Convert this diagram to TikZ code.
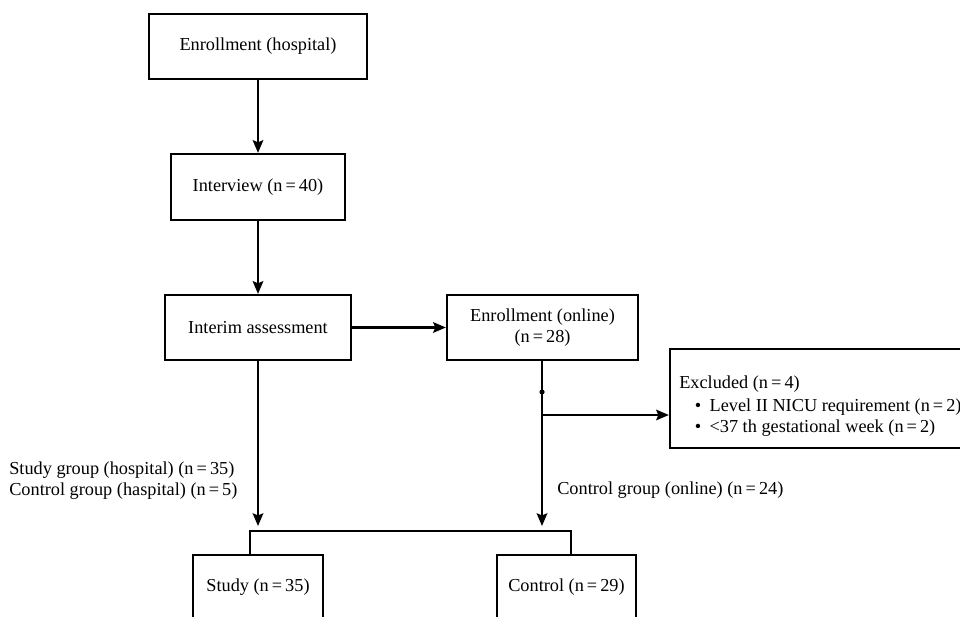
\documentclass[tikz,border=0pt]{standalone}
\usepackage{fontspec}
\setmainfont{Liberation Serif}
\usepackage{tikz}
\usetikzlibrary{positioning,arrows.meta}
\begin{document}
\begin{tikzpicture}[x=0.025cm, y=0.025cm]
		\tikzstyle{every node}+=[inner sep=0pt, font=\fontsize{13}{15}\selectfont]
		\tikzstyle{box}=[draw=black, line width=1.6pt, rectangle, align=center]
		\tikzstyle{arr}=[draw=black, line width=1.6pt, -{Stealth[length=9pt, width=7.5pt, inset=1.5pt]}]
		\tikzstyle{wire}=[draw=black, line width=1.6pt]
		\useasboundingbox (0,0) rectangle (960,-617);
		\node [box, minimum width=5.45cm, minimum height=1.625cm] (enrollH) at (258,-46.5) {Enrollment (hospital)};
		\node [box, minimum width=4.35cm, minimum height=1.65cm] (interview) at (258,-187) {Interview (n\,=\,40)};
		\node [box, minimum width=4.65cm, minimum height=1.625cm] (interim) at (258,-327.5) {Interim assessment};
		\node [box, minimum width=4.775cm, minimum height=1.625cm] (online) at (542.5,-327.5) {Enrollment (online)\\(n\,=\,28)};
		\node [box, minimum width=7.375cm, minimum height=2.475cm] (excluded) at (817.5,-398.5) {};
		\node [box, minimum width=3.25cm, minimum height=1.625cm] (study) at (258,-587.5) {Study (n\,=\,35)};
		\node [box, minimum width=3.475cm, minimum height=1.625cm] (control) at (566.5,-587.5) {Control (n\,=\,29)};
		% text beside the lines
		\node [anchor=west, align=left] (exclist) at (679,-406) {Excluded (n\,=\,4)\\[1pt]
			\hspace*{11pt}\textbullet\hspace{6pt}Level II NICU requirement (n\,=\,2)\\
			\hspace*{11pt}\textbullet\hspace{6pt}<37 th gestational week (n\,=\,2)};
		\node [anchor=west, align=left] (studylbl) at (9,-481) {Study group (hospital) (n\,=\,35)\\Control group (haspital) (n\,=\,5)};
		\node [anchor=west] (ctrllbl) at (557,-490) {Control group (online) (n\,=\,24)};
		% junctions
		\coordinate (studyin) at (258,-526);
		\coordinate (ctrlin) at (542,-526);
		\coordinate (split) at (542,-415);
		\coordinate (dot) at (542,-392);
		\coordinate (brl) at (250,-531);
		\coordinate (brr) at (571,-531);
		\draw [arr] (enrollH) -- (interview);
		\draw [arr] (interview) -- (interim);
		\draw [arr] (interim) -- (online);
		\draw [arr] (interim.south) -- (studyin);
		\draw [arr] (online.south -| ctrlin) -- (ctrlin);
		\fill [black] (dot) circle (2.6);
		\draw [arr] (split) -- (split -| excluded.west);
		\draw [wire] (study.north -| brl) -- (brl) -- (brr) -- (control.north -| brr);
\end{tikzpicture}
\end{document}
